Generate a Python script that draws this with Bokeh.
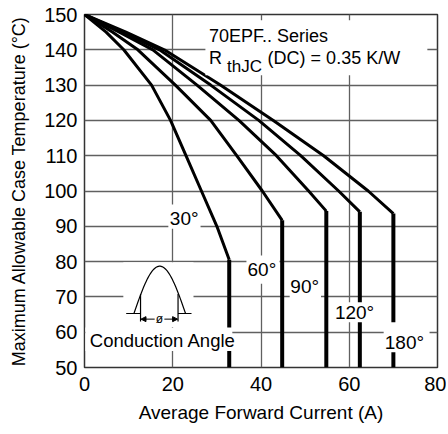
from bokeh.plotting import figure
from bokeh.models import Range1d, FixedTicker, Arrow, NormalHead
from bokeh.core.properties import value
from bokeh.embed import file_html
from bokeh.resources import INLINE
import numpy as np

# ---- data ----
temps = [150, 145, 140, 130, 120, 110, 100]
current_30 = [0, 4.9, 8.9, 15.2, 19.5, 23.0, 26.5, 30.0, 32.8]
temp_30 = [150, 145, 140, 130, 120, 110, 100, 90, 80.5]
current_60 = [0, 6.4, 12.1, 20.6, 28.6, 34.5, 40.3, 44.8]
temp_60 = temps + [91.7]
current_90 = [0, 7.9, 15.5, 25.5, 35.0, 43.5, 50.8, 54.8]
temp_90 = temps + [94.3]
current_120 = [0, 8.7, 17.0, 28.6, 39.5, 49.0, 57.6, 62.4]
temp_120 = temps + [94.1]
current_180 = [0, 9.4, 18.1, 30.8, 42.8, 54.2, 64.3, 70.0]
temp_180 = temps + [93.6]
series = [(current_30, temp_30), (current_60, temp_60), (current_90, temp_90),
          (current_120, temp_120), (current_180, temp_180)]
x_ticks = [0, 20, 40, 60, 80]
y_ticks = [50, 60, 70, 80, 90, 100, 110, 120, 130, 140, 150]
angle_labels = ["30°", "60°", "90°", "120°", "180°"]
FONT = "Liberation Sans"

p = figure(width=446, height=432, x_range=Range1d(0, 80), y_range=Range1d(50, 150),
           output_backend="svg", toolbar_location=None,
           min_border_left=84, min_border_right=9, min_border_top=14, min_border_bottom=65)
p.background_fill_color = "white"
p.border_fill_color = "white"
p.outline_line_color = "#333333"
p.outline_line_width = 1.5

p.xaxis.ticker = FixedTicker(ticks=x_ticks)
p.yaxis.ticker = FixedTicker(ticks=y_ticks)
for ax in (p.xaxis[0], p.yaxis[0]):
    ax.axis_line_color = None
    ax.major_tick_line_color = None
    ax.minor_tick_line_color = None
    ax.major_tick_out = 0
    ax.major_tick_in = 0
    ax.major_label_text_font = FONT
    ax.major_label_text_font_size = "20px"
    ax.major_label_text_color = "black"
    ax.axis_label_text_font = FONT
    ax.axis_label_text_font_style = "normal"
    ax.axis_label_text_color = "black"
p.xaxis.axis_label_text_font_size = "19px"
p.yaxis.axis_label_text_font_size = "18px"
p.xaxis.axis_label = "Average Forward Current (A)"
p.yaxis.axis_label = "Maximum Allowable Case Temperature (°C)"
p.xaxis.major_label_standoff = 9
p.xaxis.axis_label_standoff = 8
p.yaxis.major_label_standoff = 7
p.yaxis.axis_label_standoff = 12

p.xgrid.ticker = FixedTicker(ticks=x_ticks)
p.ygrid.ticker = FixedTicker(ticks=y_ticks)
for g in (p.xgrid[0], p.ygrid[0]):
    g.grid_line_color = "#606060"
    g.grid_line_width = 1.3

# curves and vertical current limits
for cur, tmp in series:
    p.line(cur, tmp, line_color="black", line_width=3, line_join="round")
    p.segment(x0=[cur[-1]], y0=[tmp[-1]], x1=[cur[-1]], y1=[50],
              line_color="black", line_width=4)

# white label backgrounds (on top of grid and curves)
box_l = [19.0, 36.7, 46.5, 56.9, 67.8, 0.2, 8.8, 27.4]
box_r = [26.3, 44.2, 53.6, 65.9, 78.2, 33.5, 24.7, 77.7]
box_b = [89.3, 73.7, 69.0, 62.8, 54.3, 54.7, 61.5, 132.8]
box_t = [96.2, 81.7, 76.0, 68.5, 62.8, 61.3, 79.8, 148.4]
p.quad(left=box_l, right=box_r, bottom=box_b, top=box_t,
       fill_color="white", line_color=None)

# conduction angle inset
hx = np.linspace(11.2, 22.9, 60)
hy = 65.3 + 13.4 * np.sin(np.pi * (hx - 11.2) / 11.7)
p.line(hx, hy, line_color="black", line_width=1.2)
p.segment(x0=[9.45, 21.2], y0=[65.3, 65.3], x1=[12.7, 24.25], y1=[65.3, 65.3],
          line_color="black", line_width=1.2)
p.segment(x0=[12.7, 21.2], y0=[70.8, 70.8], x1=[12.7, 21.2], y1=[63.0, 63.0],
          line_color="black", line_width=1.2)
for xs, xe in ((15.9, 12.8), (18.1, 21.1)):
    p.add_layout(Arrow(end=NormalHead(size=5, line_color="black", fill_color="black", line_width=1),
                       x_start=xs, y_start=63.7, x_end=xe, y_end=63.7,
                       line_color="black", line_width=1))
p.text(x=[17.0], y=[63.7], text=["ø"], text_font=value(FONT), text_font_size="12px",
       text_align="center", text_baseline="middle", text_color="black")

# labels
p.text(x=[22.6, 40.2, 49.9, 61.2, 72.5], y=[92.1, 77.7, 72.9, 65.5, 57.2],
       text=angle_labels, text_font=value(FONT), text_font_size="19px",
       text_align="center", text_baseline="middle", text_color="black")
p.text(x=[1.2], y=[57.6], text=["Conduction Angle"], text_font=value(FONT),
       text_font_size="18.5px", text_align="left", text_baseline="middle", text_color="black")
p.text(x=[28.2, 28.2, 41.5], y=[143.8, 137.6, 137.6],
       text=["70EPF.. Series", "R", "(DC) = 0.35 K/W"], text_font=value(FONT),
       text_font_size="18px", text_align="left", text_baseline="middle", text_color="black")
p.text(x=[32.3], y=[135.3], text=["thJC"], text_font=value(FONT),
       text_font_size="17px", text_align="left", text_baseline="middle", text_color="black")

open("out.html", "w").write(file_html(p, INLINE))
